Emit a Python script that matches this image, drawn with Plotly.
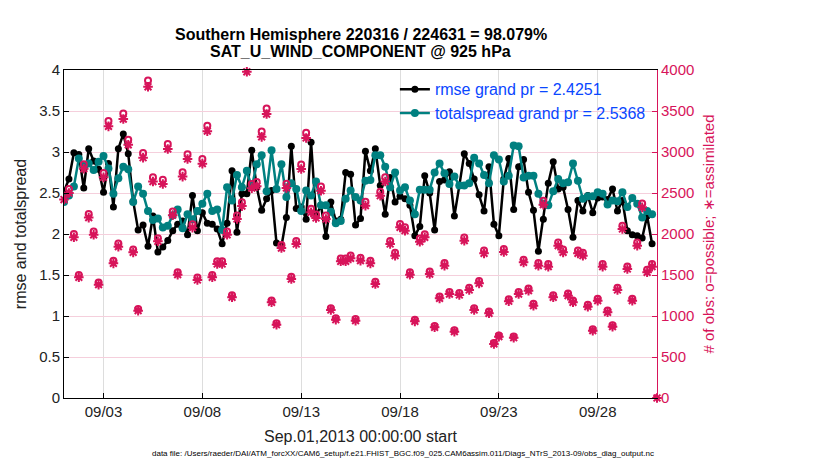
import pandas as pd
import plotly.graph_objects as go

# --- data: 6-hourly bins, 2013-09-01 00Z .. 2013-10-01 00Z ---
bin_start = '2013-09-01 00:00'
n_bins = 121
bin_times = pd.date_range(bin_start, periods=n_bins, freq='6h')

rmse = [
    2.52, 2.67, 2.99, 2.97, 2.56, 3.04, 2.89, 2.79, 2.51, 2.86,
    2.33, 3.04, 3.22, 2.98, 2.40, 2.05, 2.11, 1.85, 2.22, 1.78,
    1.84, 1.92, 2.04, 2.12, 2.16, 1.99, 2.47, 2.04, 2.26, 2.13,
    2.12, 2.06, 1.88, 2.13, 2.77, 2.02, 2.49, 2.49, 3.02, 2.57,
    2.29, 2.43, 2.53, 1.89, 1.85, 2.20, 3.07, 2.31, 2.33, 2.18,
    3.12, 2.22, 2.35, 1.97, 2.39, 2.16, 2.18, 2.75, 2.73, 2.11,
    2.19, 3.01, 2.77, 3.04, 2.59, 2.24, 2.69, 2.39, 2.46, 2.43,
    2.35, 1.98, 2.09, 2.71, 2.50, 2.05, 2.64, 2.66, 2.76, 2.22,
    2.59, 2.98, 2.86, 2.67, 2.48, 2.28, 2.82, 2.12, 1.98, 2.67,
    2.92, 2.30, 2.82, 2.91, 2.51, 2.29, 1.79, 2.18, 2.62, 2.88,
    2.55, 2.57, 2.30, 1.96, 2.41, 2.28, 2.47, 2.26, 2.44, 2.45,
    2.42, 2.55, 2.28, 2.41, 2.04, 1.99, 1.98, 1.95, 2.22, 1.88,
    None,
]

totalspread = [
    2.39, 2.47, 2.58, 2.92, 2.83, 2.86, 2.78, 2.88, 2.95, 2.80,
    2.49, 2.68, 2.82, 2.79, 2.39, 2.58, 2.49, 2.28, 2.17, 2.19,
    2.08, 2.10, 2.23, 2.30, 2.07, 2.24, 2.18, 2.28, 2.37, 2.49,
    2.28, 2.30, 2.05, 2.57, 2.41, 2.72, 2.57, 2.77, 2.57, 2.85,
    2.96, 2.52, 3.02, 2.55, 2.85, 2.45, 2.62, 2.55, 2.28, 2.53,
    2.47, 2.64, 2.35, 2.35, 2.27, 2.13, 2.16, 2.43, 2.53, 2.45,
    2.41, 2.65, 2.66, 2.96, 2.96, 2.82, 2.57, 2.75, 2.53, 2.57,
    2.41, 2.24, 2.54, 2.54, 2.54, 2.75, 2.86, 2.74, 2.61, 2.70,
    2.59, 2.59, 2.62, 2.93, 2.86, 2.72, 2.62, 2.96, 2.91, 2.64,
    2.71, 3.08, 3.07, 2.69, 2.71, 2.71, 2.49, 2.37, 2.35, 2.52,
    2.67, 2.62, 2.63, 2.86, 2.65, 2.43, 2.46, 2.46, 2.51, 2.49,
    2.36, 2.41, 2.40, 2.51, 2.33, 2.44, 2.37, 2.20, 2.28, 2.24,
    None,
]

nposs = [
    2468, 2550, 1999, 1501, 2851, 2244, 2030, 1410, 2745, 3379,
    1675, 1883, 3470, 3149, 1812, 1086, 2989, 3871, 2693, 1949,
    2662, 3098, 2275, 1534, 2754, 2973, 2119, 1468, 2915, 3319,
    1501, 1667, 1667, 2030, 1253, 2227, 2387, 4060, 2610, 2635,
    3249, 3532, 1190, 912, 1866, 2612, 1480, 1916, 2849, 3234,
    2309, 2239, 2579, 2227, 1094, 974, 1700, 1700, 1737, 962,
    1709, 2393, 1675, 1418, 2516, 2693, 1916, 1771, 2123, 2082,
    1534, 954, 1945, 1998, 1542, 879, 1239, 1646, 1293, 825,
    1281, 1957, 1343, 1094, 1426, 1799, 1054, 672, 763, 1818,
    1204, 750, 1293, 1687, 1335, 1149, 1646, 2405, 1634, 1253,
    1895, 1812, 1273, 1190, 1799, 1771, 1136, 837, 1211, 1634,
    1066, 887, 1343, 2102, 1604, 1211, 1895, 2372, 1564, 1634,
    0,
]

nused = [
    2420, 2500, 1960, 1472, 2795, 2200, 1990, 1382, 2691, 3313,
    1642, 1846, 3402, 3087, 1776, 1065, 2930, 3795, 2640, 1911,
    2610, 3037, 2230, 1504, 2700, 2915, 2077, 1439, 2858, 3254,
    1472, 1634, 1634, 1990, 1228, 2183, 2340, 3978, 2559, 2583,
    3185, 3463, 1167, 894, 1829, 2561, 1451, 1878, 2793, 3171,
    2264, 2195, 2528, 2183, 1073, 955, 1667, 1667, 1703, 943,
    1675, 2346, 1642, 1390, 2467, 2640, 1878, 1736, 2081, 2041,
    1504, 935, 1907, 1959, 1512, 862, 1215, 1614, 1268, 809,
    1256, 1919, 1317, 1073, 1398, 1764, 1033, 659, 748, 1782,
    1180, 735, 1268, 1654, 1309, 1126, 1614, 2358, 1602, 1228,
    1858, 1776, 1248, 1167, 1764, 1736, 1114, 821, 1187, 1602,
    1045, 870, 1317, 2061, 1573, 1187, 1858, 2325, 1533, 1602,
    0,
]

tick_dates = ['2013-09-03', '2013-09-08', '2013-09-13', '2013-09-18', '2013-09-23', '2013-09-28']
tick_text = ['09/03', '09/08', '09/13', '09/18', '09/23', '09/28']
rmse_label = 'rmse grand pr = 2.4251'
spread_label = 'totalspread grand pr = 2.5368'
title1 = 'Southern Hemisphere 220316 / 224631 = 98.079%'
title2 = 'SAT_U_WIND_COMPONENT @ 925 hPa'
datafile = ('data file: /Users/raeder/DAI/ATM_forcXX/CAM6_setup/f.e21.FHIST_BGC.f09_025.'
            'CAM6assim.011/Diags_NTrS_2013-09/obs_diag_output.nc')

# --- styling ---
FONT = 'Liberation Sans, Arial, Helvetica, sans-serif'
PINK = '#d7145a'
TEAL = '#008080'
LEGEND_BLUE = '#0a47ff'

fig = go.Figure()

fig.add_trace(go.Scatter(
    x=bin_times, y=rmse, name=rmse_label, mode='lines+markers',
    line=dict(color='black', width=2.5),
    marker=dict(color='black', size=7, symbol='circle'),
))
fig.add_trace(go.Scatter(
    x=bin_times, y=totalspread, name=spread_label, mode='lines+markers',
    line=dict(color=TEAL, width=2.5),
    marker=dict(color=TEAL, size=8, symbol='circle'),
))
fig.add_trace(go.Scatter(
    x=bin_times, y=nposs, yaxis='y2', mode='markers', showlegend=False,
    marker=dict(symbol='circle-open', size=6, color=PINK, line=dict(color=PINK, width=2)),
))
fig.add_trace(go.Scatter(
    x=bin_times, y=nused, yaxis='y2', mode='markers', showlegend=False, cliponaxis=False,
    marker=dict(symbol='asterisk-open', size=8, color=PINK, line=dict(color=PINK, width=2)),
))

# page body adds 8px offset, so margins are shifted to keep plot box at x 58-657, y 70-398
fig.update_layout(
    width=830, height=470,
    margin=dict(l=50, r=181, t=62, b=80),
    paper_bgcolor='white', plot_bgcolor='white',
    font=dict(family=FONT, size=15, color='#222222'),
    showlegend=True,
    legend=dict(
        x=0.558, y=0.993, xanchor='left', yanchor='top',
        bgcolor='rgba(0,0,0,0)', borderwidth=0,
        font=dict(family=FONT, size=16, color=LEGEND_BLUE),
        itemwidth=30, tracegroupgap=0,
    ),
    xaxis=dict(
        type='date',
        range=['2013-09-01 00:00', '2013-10-01 00:00'],
        tickvals=tick_dates, ticktext=tick_text,
        ticks='inside', ticklen=5, tickcolor='black',
        showline=True, linecolor='black', linewidth=1, mirror=True,
        showgrid=True, gridcolor='#dddddd', gridwidth=1,
        zeroline=False,
        tickfont=dict(size=15, color='#222222'),
    ),
    yaxis=dict(
        range=[0, 4],
        tickvals=[0, 0.5, 1, 1.5, 2, 2.5, 3, 3.5, 4],
        ticktext=['0', '0.5', '1', '1.5', '2', '2.5', '3', '3.5', '4'],
        ticks='inside', ticklen=5, tickcolor='black',
        showline=True, linecolor='black', linewidth=1,
        showgrid=False, zeroline=False,
        tickfont=dict(size=15, color='#222222'),
        title=dict(text='rmse and totalspread', font=dict(size=16, color='#222222'), standoff=8),
    ),
    yaxis2=dict(
        overlaying='y', side='right',
        range=[0, 4000],
        tickvals=[0, 500, 1000, 1500, 2000, 2500, 3000, 3500, 4000],
        ticks='inside', ticklen=5, tickcolor=PINK,
        showline=True, linecolor=PINK, linewidth=1,
        showgrid=True, gridcolor='#f5cfdc', gridwidth=1,
        zeroline=False,
        tickfont=dict(size=15, color=PINK),
        title=dict(text='# of obs: o=possible; \u2217=assimilated', font=dict(size=15, color=PINK), standoff=10),
    ),
    annotations=[
        dict(text='<b>' + title1 + '</b>', x=0.5, y=1.107, xref='paper', yref='paper',
             xanchor='center', yanchor='middle', showarrow=False, font=dict(size=16, color='black')),
        dict(text='<b>' + title2 + '</b>', x=0.5, y=1.055, xref='paper', yref='paper',
             xanchor='center', yanchor='middle', showarrow=False, font=dict(size=16, color='black')),
        dict(text='Sep.01,2013 00:00:00 start', x=0.5, y=-0.116, xref='paper', yref='paper',
             xanchor='center', yanchor='middle', showarrow=False, font=dict(size=16, color='#222222')),
        dict(text=datafile, x=0.572, y=-0.168, xref='paper', yref='paper',
             xanchor='center', yanchor='middle', showarrow=False, font=dict(size=8, color='black')),
    ],
)

fig.write_html('out.html')
